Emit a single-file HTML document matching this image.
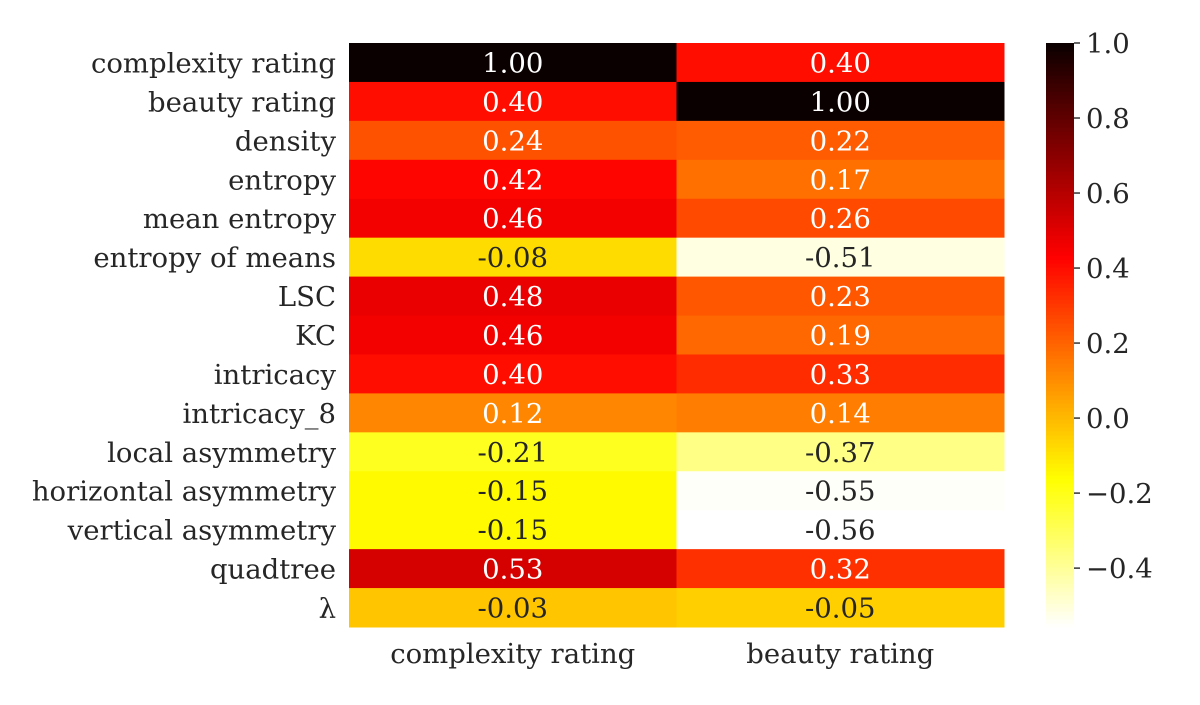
<!DOCTYPE html>
<html><head><meta charset="utf-8"><style>
body{margin:0;background:#fff}
svg text{font-family:"DejaVu Serif","Liberation Serif",serif;fill:#262626}
</style></head><body>
<svg id="c" width="1200" height="700" xmlns="http://www.w3.org/2000/svg"></svg>
<script>
const rows=["complexity rating","beauty rating","density","entropy","mean entropy","entropy of means","LSC","KC","intricacy","intricacy_8","local asymmetry","horizontal asymmetry","vertical asymmetry","quadtree","λ"];
const cols=["complexity rating","beauty rating"];
const colComplexity=[1.00,0.40,0.24,0.42,0.46,-0.08,0.48,0.46,0.40,0.12,-0.21,-0.15,-0.15,0.53,-0.03];
const colBeauty=[0.40,1.00,0.22,0.17,0.26,-0.51,0.23,0.19,0.33,0.14,-0.37,-0.55,-0.56,0.32,-0.05];
const cbTicks=[1.0,0.8,0.6,0.4,0.2,0.0,-0.2,-0.4];
const cbLabels=["1.0","0.8","0.6","0.4","0.2","0.0","−0.2","−0.4"];
const vmin=-0.557,vmax=1.0;
const X0=349,X1=1004,Y0=43,Y1=627;
const FS=27.5;
const svg=document.getElementById('c');
const NS="http://www.w3.org/2000/svg";
function el(t,a){const e=document.createElementNS(NS,t);for(const k in a)e.setAttribute(k,a[k]);svg.appendChild(e);return e;}
function hotr(v){let t=(v-vmin)/(vmax-vmin);t=Math.max(0,Math.min(1,t));const s=1-t;
 const r=s<0.365079?0.0416+(1-0.0416)*s/0.365079:1;
 const g=s<0.365079?0:(s<0.746032?(s-0.365079)/(0.746032-0.365079):1);
 const b=s<0.746032?0:(s-0.746032)/(1-0.746032);return [r,g,b];}
function css(c){return `rgb(${Math.round(c[0]*255)},${Math.round(c[1]*255)},${Math.round(c[2]*255)})`;}
function lum(c){const f=x=>x<=0.03928?x/12.92:Math.pow((x+0.055)/1.055,2.4);return 0.2126*f(c[0])+0.7152*f(c[1])+0.0722*f(c[2]);}
const rh=(Y1-Y0)/rows.length,cw=(X1-X0)/cols.length;
const yc=i=>Y0+rh*(i+0.5)+1, xc=j=>X0+cw*(j+0.5);
const series=[colComplexity,colBeauty];
series.forEach((vals,j)=>{vals.forEach((v,i)=>{
 const c=hotr(v);
 const r=el('rect',{x:X0+cw*j,y:Y0+rh*i,width:cw+0.5,height:rh+0.5,fill:css(c)});
 
 
 const t=el('text',{x:xc(j),y:yc(i),'text-anchor':'middle','dominant-baseline':'central','font-size':FS});
 
 
 t.style.fill=lum(c)>0.408?'#262626':'#ffffff';
 t.textContent=v.toFixed(2);
});});
rows.forEach((n,i)=>{const t=el('text',{x:336,y:yc(i),'text-anchor':'end','dominant-baseline':'central','font-size':FS});
 
 t.textContent=n;});
cols.forEach((n,j)=>{const t=el('text',{x:xc(j),y:654,'text-anchor':'middle','dominant-baseline':'central','font-size':FS});
 
 t.textContent=n;});
const CX=1046,CW=28;const cy=v=>Y1-(v-vmin)/(vmax-vmin)*(Y1-Y0);
const N=146;for(let k=0;k<N;k++){const v0=vmin+(vmax-vmin)*k/N;const y=cy(v0+(vmax-vmin)/N);
 const r=el('rect',{x:CX,y:y,width:CW,height:(Y1-Y0)/N+0.6,fill:css(hotr(v0+(vmax-vmin)/(2*N)))});
 
 }
cbTicks.forEach((v,k)=>{const y=cy(v);
 const l=el('line',{x1:CX+CW,x2:CX+CW+6,y1:y,y2:y,stroke:'#262626','stroke-width':1.4});
 
 
 const t=el('text',{x:CX+CW+12,y:y+1,'dominant-baseline':'central','font-size':FS});
 
 t.textContent=cbLabels[k];});
</script>
</body></html>
